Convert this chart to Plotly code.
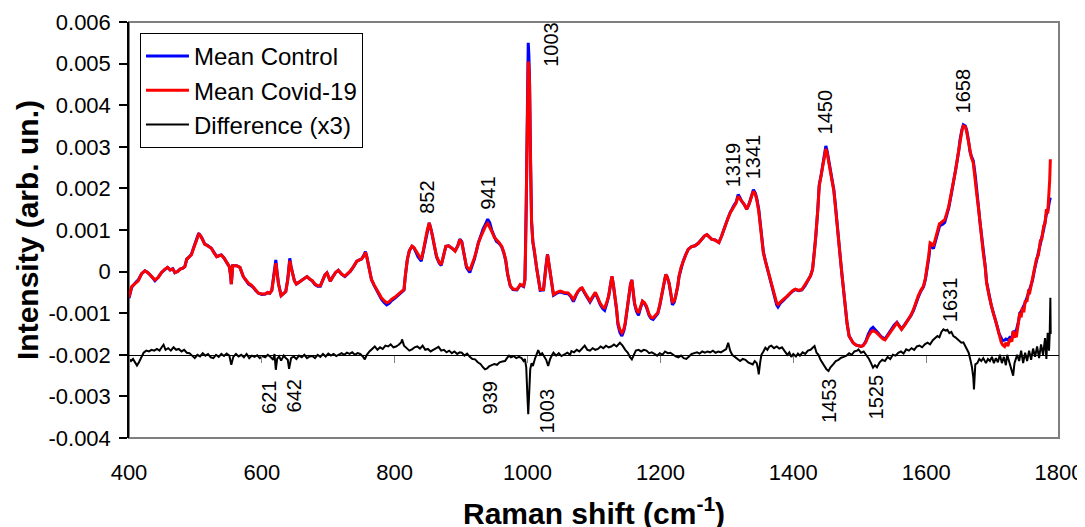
import plotly.graph_objects as go

# ---------------- data ----------------
raman_shift = [
    400, 404, 410, 414, 419, 424, 428, 432, 439, 444, 449, 454, 458, 462, 466, 469, 473, 477, 481, 484,
    487, 491, 494, 497, 500, 503, 505, 508, 510, 514, 518, 524, 528, 532, 536, 539, 543, 547, 551, 553,
    554, 555, 556, 562, 567, 572, 576, 580, 584, 587, 591, 595, 600, 605, 609, 612, 615, 617, 619, 621,
    623, 625, 629, 633, 636, 639, 641, 642, 644, 646, 649, 652, 656, 660, 664, 668, 672, 676, 680, 684,
    688, 692, 695, 698, 701, 703, 707, 711, 715, 720, 725, 729, 733, 738, 743, 747, 750, 753, 756, 758,
    760, 763, 765, 769, 773, 777, 780, 784, 788, 792, 795, 800, 805, 810, 814, 816, 819, 822, 826, 829,
    831, 835, 840, 843, 846, 849, 852, 855, 857, 860, 863, 867, 870, 873, 877, 881, 886, 891, 895, 898,
    901, 903, 906, 908, 913, 917, 920, 923, 926, 930, 933, 937, 940, 943, 946, 950, 953, 957, 961, 964,
    967, 970, 974, 978, 984, 989, 994, 996, 997, 998, 999.5, 1001, 1002, 1003, 1004.5, 1006, 1008, 1010, 1014, 1019,
    1024, 1027, 1030, 1032, 1034, 1039, 1044, 1049, 1055, 1061, 1065, 1069, 1073, 1076, 1080, 1082, 1086, 1090, 1094, 1098,
    1102, 1105, 1109, 1113, 1116, 1119, 1122, 1125, 1127, 1129, 1131, 1134, 1136, 1139, 1142, 1145, 1147, 1150, 1153, 1155,
    1157, 1159, 1161, 1164, 1167, 1170, 1173, 1176, 1179, 1183, 1186, 1189, 1193, 1196, 1199, 1202, 1205, 1208, 1210, 1213,
    1216, 1218, 1221, 1223, 1226, 1228, 1231, 1234, 1238, 1242, 1247, 1252, 1257, 1262, 1266, 1270, 1274, 1277, 1282, 1288,
    1292, 1297, 1301, 1305, 1308, 1311, 1314, 1317, 1320, 1322, 1326, 1330, 1333, 1335, 1338, 1340, 1343, 1345, 1348, 1350,
    1353, 1355, 1358, 1360, 1363, 1366, 1369, 1372, 1375, 1377, 1381, 1385, 1390, 1395, 1399, 1403, 1408, 1413, 1418, 1423,
    1426, 1429, 1432, 1434, 1437, 1439, 1442, 1444, 1447, 1449, 1451, 1453, 1456, 1458, 1461, 1463, 1466, 1468, 1471, 1473,
    1476, 1478, 1481, 1484, 1487, 1490, 1494, 1498, 1502, 1505, 1509, 1513, 1517, 1520, 1524, 1528, 1532, 1535, 1538, 1543,
    1548, 1552, 1556, 1560, 1563, 1568, 1573, 1577, 1581, 1585, 1588, 1592, 1596, 1599, 1601, 1604, 1606, 1609, 1611, 1615,
    1618, 1620, 1622, 1625, 1628, 1631, 1634, 1638, 1641, 1644, 1646, 1649, 1651, 1654, 1656, 1659, 1661, 1664, 1666, 1668,
    1671, 1674, 1676, 1679, 1681, 1684, 1686, 1689, 1691, 1695, 1698, 1701, 1704, 1707, 1710, 1713, 1715, 1718, 1720, 1723,
    1726, 1729, 1731, 1734, 1736, 1739, 1741, 1743, 1745, 1747, 1749, 1752, 1754, 1756, 1760, 1763, 1766, 1769, 1772, 1774,
    1777, 1779, 1781, 1783, 1785, 1786, 1787,
]

mean_control = [
    -0.64e-3, -0.38e-3, -0.26e-3, -0.20e-3, -0.05e-3, 0.02e-3, -0.02e-3, -0.08e-3, -0.22e-3, -0.14e-3, -0.02e-3, 0.06e-3, 0.10e-3, 0.04e-3, 0.07e-3, -0.03e-3, 0.00e-3, 0.06e-3, 0.08e-3, 0.12e-3,
    0.30e-3, 0.36e-3, 0.42e-3, 0.56e-3, 0.72e-3, 0.84e-3, 0.92e-3, 0.86e-3, 0.80e-3, 0.66e-3, 0.63e-3, 0.56e-3, 0.45e-3, 0.36e-3, 0.39e-3, 0.40e-3, 0.33e-3, 0.24e-3, 0.12e-3, -0.10e-3,
    -0.30e-3, -0.10e-3, 0.14e-3, 0.14e-3, 0.10e-3, -0.12e-3, -0.22e-3, -0.30e-3, -0.34e-3, -0.38e-3, -0.46e-3, -0.52e-3, -0.55e-3, -0.54e-3, -0.50e-3, -0.52e-3, -0.45e-3, -0.20e-3, 0.08e-3, 0.28e-3,
    -0.02e-3, -0.28e-3, -0.58e-3, -0.52e-3, -0.48e-3, -0.18e-3, 0.18e-3, 0.32e-3, 0.12e-3, -0.04e-3, -0.22e-3, -0.30e-3, -0.26e-3, -0.22e-3, -0.16e-3, -0.12e-3, -0.18e-3, -0.23e-3, -0.31e-3, -0.35e-3,
    -0.35e-3, -0.20e-3, -0.08e-3, -0.03e-3, -0.18e-3, -0.23e-3, -0.12e-3, -0.02e-3, 0.03e-3, -0.06e-3, -0.12e-3, -0.07e-3, 0.00e-3, 0.12e-3, 0.25e-3, 0.28e-3, 0.30e-3, 0.38e-3, 0.48e-3, 0.36e-3,
    0.20e-3, -0.05e-3, -0.19e-3, -0.33e-3, -0.45e-3, -0.57e-3, -0.66e-3, -0.74e-3, -0.80e-3, -0.76e-3, -0.70e-3, -0.64e-3, -0.57e-3, -0.51e-3, -0.44e-3, -0.10e-3, 0.29e-3, 0.50e-3, 0.61e-3, 0.57e-3,
    0.50e-3, 0.36e-3, 0.25e-3, 0.48e-3, 0.77e-3, 1.00e-3, 1.17e-3, 1.00e-3, 0.85e-3, 0.60e-3, 0.35e-3, 0.20e-3, 0.15e-3, 0.35e-3, 0.61e-3, 0.62e-3, 0.57e-3, 0.50e-3, 0.62e-3, 0.78e-3,
    0.72e-3, 0.55e-3, 0.30e-3, 0.10e-3, -0.02e-3, 0.14e-3, 0.30e-3, 0.50e-3, 0.70e-3, 0.88e-3, 1.02e-3, 1.15e-3, 1.26e-3, 1.18e-3, 1.00e-3, 0.84e-3, 0.73e-3, 0.68e-3, 0.60e-3, 0.46e-3,
    0.27e-3, -0.07e-3, -0.35e-3, -0.43e-3, -0.44e-3, -0.32e-3, -0.36e-3, -0.20e-3, 0.50e-3, 1.60e-3, 3.60e-3, 5.50e-3, 5.20e-3, 4.55e-3, 2.70e-3, 1.20e-3, 0.72e-3, 0.53e-3, 0.05e-3, -0.45e-3,
    -0.44e-3, 0.05e-3, 0.42e-3, 0.20e-3, -0.03e-3, -0.57e-3, -0.52e-3, -0.48e-3, -0.52e-3, -0.53e-3, -0.60e-3, -0.72e-3, -0.57e-3, -0.48e-3, -0.41e-3, -0.40e-3, -0.52e-3, -0.64e-3, -0.73e-3, -0.62e-3,
    -0.52e-3, -0.62e-3, -0.78e-3, -0.89e-3, -0.93e-3, -0.78e-3, -0.60e-3, -0.30e-3, -0.12e-3, -0.30e-3, -0.52e-3, -0.92e-3, -1.27e-3, -1.46e-3, -1.55e-3, -1.42e-3, -1.26e-3, -0.92e-3, -0.52e-3, -0.30e-3,
    -0.20e-3, -0.46e-3, -0.78e-3, -0.96e-3, -1.05e-3, -0.88e-3, -0.72e-3, -0.77e-3, -0.86e-3, -1.06e-3, -1.13e-3, -1.15e-3, -1.08e-3, -1.01e-3, -0.82e-3, -0.56e-3, -0.25e-3, -0.07e-3, -0.12e-3, -0.28e-3,
    -0.58e-3, -0.80e-3, -0.73e-3, -0.60e-3, -0.36e-3, -0.12e-3, 0.08e-3, 0.24e-3, 0.40e-3, 0.54e-3, 0.60e-3, 0.62e-3, 0.68e-3, 0.77e-3, 0.85e-3, 0.89e-3, 0.83e-3, 0.78e-3, 0.76e-3, 0.70e-3,
    0.85e-3, 1.10e-3, 1.26e-3, 1.42e-3, 1.52e-3, 1.60e-3, 1.67e-3, 1.85e-3, 1.77e-3, 1.70e-3, 1.62e-3, 1.50e-3, 1.60e-3, 1.70e-3, 1.87e-3, 1.97e-3, 1.88e-3, 1.76e-3, 1.50e-3, 1.20e-3,
    0.78e-3, 0.47e-3, 0.26e-3, 0.13e-3, -0.06e-3, -0.28e-3, -0.47e-3, -0.66e-3, -0.80e-3, -0.85e-3, -0.75e-3, -0.69e-3, -0.62e-3, -0.53e-3, -0.47e-3, -0.43e-3, -0.46e-3, -0.44e-3, -0.33e-3, -0.19e-3,
    -0.10e-3, 0.05e-3, 0.50e-3, 0.86e-3, 1.52e-3, 2.08e-3, 2.33e-3, 2.50e-3, 2.80e-3, 3.02e-3, 2.90e-3, 2.72e-3, 2.43e-3, 2.24e-3, 1.97e-3, 1.67e-3, 1.22e-3, 0.78e-3, 0.30e-3, -0.03e-3,
    -0.50e-3, -0.90e-3, -1.25e-3, -1.55e-3, -1.65e-3, -1.71e-3, -1.76e-3, -1.79e-3, -1.80e-3, -1.78e-3, -1.68e-3, -1.50e-3, -1.38e-3, -1.34e-3, -1.40e-3, -1.48e-3, -1.56e-3, -1.60e-3, -1.62e-3, -1.50e-3,
    -1.37e-3, -1.28e-3, -1.22e-3, -1.30e-3, -1.38e-3, -1.27e-3, -1.15e-3, -1.06e-3, -0.93e-3, -0.74e-3, -0.62e-3, -0.47e-3, -0.37e-3, -0.18e-3, 0.00e-3, 0.33e-3, 0.62e-3, 0.60e-3, 0.55e-3, 0.78e-3,
    0.92e-3, 1.08e-3, 1.12e-3, 1.14e-3, 1.18e-3, 1.35e-3, 1.53e-3, 1.87e-3, 2.11e-3, 2.39e-3, 2.60e-3, 2.90e-3, 3.17e-3, 3.42e-3, 3.53e-3, 3.50e-3, 3.40e-3, 3.12e-3, 2.88e-3, 2.78e-3,
    2.66e-3, 2.30e-3, 1.92e-3, 1.52e-3, 1.20e-3, 0.82e-3, 0.47e-3, 0.12e-3, -0.25e-3, -0.58e-3, -0.81e-3, -0.98e-3, -1.13e-3, -1.32e-3, -1.50e-3, -1.62e-3, -1.66e-3, -1.65e-3, -1.62e-3, -1.64e-3,
    -1.58e-3, -1.60e-3, -1.45e-3, -1.44e-3, -1.40e-3, -1.20e-3, -1.00e-3, -0.96e-3, -0.90e-3, -0.84e-3, -0.75e-3, -0.62e-3, -0.52e-3, -0.44e-3, -0.22e-3, 0.04e-3, 0.24e-3, 0.44e-3, 0.68e-3, 0.82e-3,
    1.02e-3, 1.20e-3, 1.38e-3, 1.45e-3, 1.70e-3, 1.72e-3, 1.78e-3,
]

mean_covid = [
    -0.62e-3, -0.36e-3, -0.28e-3, -0.22e-3, -0.05e-3, 0.02e-3, -0.02e-3, -0.08e-3, -0.20e-3, -0.14e-3, -0.02e-3, 0.06e-3, 0.10e-3, 0.04e-3, 0.06e-3, -0.02e-3, 0.00e-3, 0.06e-3, 0.08e-3, 0.12e-3,
    0.30e-3, 0.36e-3, 0.40e-3, 0.55e-3, 0.70e-3, 0.82e-3, 0.90e-3, 0.86e-3, 0.78e-3, 0.66e-3, 0.62e-3, 0.56e-3, 0.45e-3, 0.36e-3, 0.38e-3, 0.40e-3, 0.33e-3, 0.24e-3, 0.12e-3, -0.10e-3,
    -0.30e-3, -0.10e-3, 0.14e-3, 0.14e-3, 0.10e-3, -0.12e-3, -0.20e-3, -0.28e-3, -0.32e-3, -0.38e-3, -0.46e-3, -0.52e-3, -0.54e-3, -0.54e-3, -0.50e-3, -0.52e-3, -0.45e-3, -0.20e-3, 0.05e-3, 0.20e-3,
    -0.05e-3, -0.30e-3, -0.58e-3, -0.52e-3, -0.48e-3, -0.20e-3, 0.15e-3, 0.26e-3, 0.10e-3, -0.05e-3, -0.22e-3, -0.30e-3, -0.26e-3, -0.22e-3, -0.16e-3, -0.12e-3, -0.18e-3, -0.22e-3, -0.30e-3, -0.34e-3,
    -0.34e-3, -0.20e-3, -0.08e-3, -0.03e-3, -0.18e-3, -0.23e-3, -0.12e-3, -0.02e-3, 0.03e-3, -0.06e-3, -0.11e-3, -0.06e-3, 0.01e-3, 0.12e-3, 0.25e-3, 0.28e-3, 0.30e-3, 0.36e-3, 0.46e-3, 0.35e-3,
    0.20e-3, -0.05e-3, -0.19e-3, -0.32e-3, -0.43e-3, -0.55e-3, -0.63e-3, -0.70e-3, -0.75e-3, -0.72e-3, -0.67e-3, -0.62e-3, -0.55e-3, -0.50e-3, -0.43e-3, -0.10e-3, 0.29e-3, 0.50e-3, 0.61e-3, 0.58e-3,
    0.53e-3, 0.40e-3, 0.29e-3, 0.50e-3, 0.77e-3, 1.00e-3, 1.17e-3, 1.00e-3, 0.85e-3, 0.60e-3, 0.37e-3, 0.22e-3, 0.17e-3, 0.35e-3, 0.61e-3, 0.62e-3, 0.57e-3, 0.49e-3, 0.62e-3, 0.77e-3,
    0.70e-3, 0.53e-3, 0.30e-3, 0.13e-3, 0.03e-3, 0.18e-3, 0.33e-3, 0.50e-3, 0.69e-3, 0.85e-3, 0.97e-3, 1.10e-3, 1.16e-3, 1.08e-3, 0.97e-3, 0.82e-3, 0.77e-3, 0.70e-3, 0.61e-3, 0.48e-3,
    0.29e-3, -0.05e-3, -0.34e-3, -0.42e-3, -0.43e-3, -0.31e-3, -0.35e-3, -0.20e-3, 0.50e-3, 1.50e-3, 3.20e-3, 5.05e-3, 4.90e-3, 4.50e-3, 2.60e-3, 1.20e-3, 0.70e-3, 0.53e-3, 0.05e-3, -0.43e-3,
    -0.43e-3, 0.05e-3, 0.41e-3, 0.20e-3, -0.03e-3, -0.55e-3, -0.50e-3, -0.47e-3, -0.50e-3, -0.51e-3, -0.58e-3, -0.67e-3, -0.55e-3, -0.47e-3, -0.40e-3, -0.39e-3, -0.50e-3, -0.62e-3, -0.71e-3, -0.60e-3,
    -0.50e-3, -0.60e-3, -0.75e-3, -0.85e-3, -0.87e-3, -0.75e-3, -0.59e-3, -0.30e-3, -0.11e-3, -0.30e-3, -0.51e-3, -0.90e-3, -1.23e-3, -1.40e-3, -1.47e-3, -1.38e-3, -1.23e-3, -0.90e-3, -0.51e-3, -0.30e-3,
    -0.20e-3, -0.45e-3, -0.75e-3, -0.92e-3, -0.99e-3, -0.85e-3, -0.71e-3, -0.75e-3, -0.83e-3, -1.03e-3, -1.10e-3, -1.11e-3, -1.05e-3, -0.99e-3, -0.80e-3, -0.55e-3, -0.25e-3, -0.07e-3, -0.12e-3, -0.27e-3,
    -0.55e-3, -0.75e-3, -0.70e-3, -0.59e-3, -0.35e-3, -0.11e-3, 0.10e-3, 0.25e-3, 0.40e-3, 0.54e-3, 0.60e-3, 0.62e-3, 0.68e-3, 0.77e-3, 0.85e-3, 0.89e-3, 0.83e-3, 0.78e-3, 0.76e-3, 0.70e-3,
    0.85e-3, 1.09e-3, 1.25e-3, 1.41e-3, 1.50e-3, 1.58e-3, 1.65e-3, 1.81e-3, 1.75e-3, 1.69e-3, 1.62e-3, 1.50e-3, 1.60e-3, 1.69e-3, 1.85e-3, 1.93e-3, 1.85e-3, 1.73e-3, 1.45e-3, 1.17e-3,
    0.75e-3, 0.45e-3, 0.25e-3, 0.13e-3, -0.05e-3, -0.27e-3, -0.45e-3, -0.63e-3, -0.75e-3, -0.79e-3, -0.72e-3, -0.67e-3, -0.60e-3, -0.51e-3, -0.46e-3, -0.42e-3, -0.45e-3, -0.43e-3, -0.32e-3, -0.18e-3,
    -0.10e-3, 0.05e-3, 0.50e-3, 0.85e-3, 1.50e-3, 2.05e-3, 2.30e-3, 2.45e-3, 2.75e-3, 2.95e-3, 2.85e-3, 2.69e-3, 2.40e-3, 2.21e-3, 1.95e-3, 1.65e-3, 1.20e-3, 0.77e-3, 0.30e-3, -0.03e-3,
    -0.50e-3, -0.91e-3, -1.25e-3, -1.55e-3, -1.65e-3, -1.71e-3, -1.76e-3, -1.79e-3, -1.80e-3, -1.78e-3, -1.70e-3, -1.55e-3, -1.45e-3, -1.42e-3, -1.45e-3, -1.51e-3, -1.58e-3, -1.62e-3, -1.64e-3, -1.52e-3,
    -1.39e-3, -1.30e-3, -1.23e-3, -1.32e-3, -1.39e-3, -1.28e-3, -1.15e-3, -1.05e-3, -0.91e-3, -0.72e-3, -0.59e-3, -0.45e-3, -0.35e-3, -0.15e-3, 0.05e-3, 0.40e-3, 0.69e-3, 0.66e-3, 0.61e-3, 0.85e-3,
    1.01e-3, 1.15e-3, 1.17e-3, 1.20e-3, 1.25e-3, 1.40e-3, 1.57e-3, 1.90e-3, 2.13e-3, 2.40e-3, 2.61e-3, 2.90e-3, 3.17e-3, 3.40e-3, 3.50e-3, 3.48e-3, 3.37e-3, 3.10e-3, 2.85e-3, 2.75e-3,
    2.61e-3, 2.25e-3, 1.89e-3, 1.50e-3, 1.17e-3, 0.80e-3, 0.45e-3, 0.10e-3, -0.27e-3, -0.60e-3, -0.83e-3, -1.00e-3, -1.15e-3, -1.35e-3, -1.55e-3, -1.70e-3, -1.76e-3, -1.80e-3, -1.71e-3, -1.79e-3,
    -1.62e-3, -1.68e-3, -1.43e-3, -1.56e-3, -1.55e-3, -1.22e-3, -0.99e-3, -1.10e-3, -0.86e-3, -0.98e-3, -0.72e-3, -0.70e-3, -0.48e-3, -0.50e-3, -0.18e-3, 0.00e-3, 0.30e-3, 0.40e-3, 0.75e-3, 0.78e-3,
    1.10e-3, 1.15e-3, 1.50e-3, 1.40e-3, 1.80e-3, 2.20e-3, 2.70e-3,
]

diff_shift = [
    400, 403, 406, 409, 412, 415, 419, 422, 426, 430, 434, 438, 442, 446, 450, 452, 455, 459, 463, 467,
    471, 475, 479, 483, 487, 491, 495, 499, 503, 507, 511, 515, 519, 523, 527, 531, 535, 539, 543, 547,
    551, 554, 557, 561, 565, 569, 573, 577, 581, 585, 589, 593, 597, 601, 605, 609, 613, 617, 619, 621,
    623, 626, 629, 633, 636, 639, 641, 644, 648, 652, 656, 660, 664, 668, 672, 676, 680, 684, 688, 692,
    696, 700, 704, 708, 712, 716, 720, 724, 728, 732, 736, 740, 744, 748, 752, 755, 758, 762, 766, 770,
    774, 778, 782, 786, 790, 794, 798, 802, 806, 810, 811, 814, 818, 822, 826, 830, 834, 838, 842, 846,
    850, 854, 858, 862, 866, 870, 874, 878, 882, 886, 890, 894, 898, 901, 905, 909, 913, 917, 921, 925,
    929, 933, 936, 939, 942, 946, 950, 954, 958, 962, 966, 969, 972, 975, 979, 983, 987, 991, 994, 996,
    998, 999.5, 1001, 1002.5, 1004, 1006, 1008, 1011, 1014, 1016, 1019, 1022, 1025, 1028, 1031, 1034, 1037, 1039, 1043, 1047,
    1051, 1056, 1060, 1064, 1066, 1070, 1074, 1078, 1082, 1086, 1090, 1094, 1098, 1102, 1106, 1110, 1114, 1118, 1122, 1126,
    1130, 1134, 1139, 1143, 1147, 1151, 1154, 1157, 1160, 1163, 1167, 1171, 1175, 1179, 1183, 1187, 1191, 1195, 1199, 1203,
    1207, 1211, 1215, 1219, 1223, 1227, 1231, 1235, 1239, 1243, 1247, 1251, 1255, 1259, 1263, 1267, 1271, 1275, 1279, 1283,
    1287, 1291, 1295, 1299, 1302, 1305, 1308, 1312, 1316, 1320, 1324, 1328, 1332, 1336, 1339, 1342, 1345, 1347, 1348, 1350,
    1352, 1355, 1358, 1361, 1364, 1367, 1371, 1375, 1379, 1383, 1387, 1391, 1394, 1397, 1400, 1404, 1407, 1410, 1414, 1418,
    1422, 1426, 1430, 1432, 1435, 1438, 1441, 1444, 1447, 1450, 1453, 1456, 1460, 1464, 1468, 1472, 1476, 1480, 1484, 1488,
    1492, 1496, 1498, 1502, 1506, 1510, 1514, 1517, 1520, 1523, 1526, 1530, 1534, 1538, 1542, 1546, 1550, 1554, 1558, 1562,
    1566, 1570, 1574, 1578, 1582, 1586, 1590, 1594, 1598, 1602, 1606, 1610, 1614, 1617, 1620, 1623, 1626, 1629, 1632, 1635,
    1638, 1641, 1644, 1647, 1650, 1653, 1656, 1659, 1661, 1664, 1667, 1669, 1671, 1672, 1674, 1677, 1680, 1683, 1686, 1690,
    1693, 1696, 1699, 1702, 1705, 1708, 1711, 1714, 1717, 1720, 1722, 1725, 1728, 1731, 1733, 1737, 1740, 1743, 1746, 1749,
    1752, 1755, 1758, 1761, 1764, 1767, 1770, 1773, 1776, 1779, 1781, 1783, 1785, 1786, 1787, 1787.5,
]

difference_x3 = [
    -0.10e-3, -0.15e-3, -0.10e-3, -0.20e-3, -0.26e-3, -0.18e-3, -0.04e-3, 0.05e-3, 0.10e-3, 0.08e-3, 0.12e-3, 0.10e-3, 0.14e-3, 0.10e-3, 0.20e-3, 0.24e-3, 0.12e-3, 0.16e-3, 0.10e-3, 0.18e-3,
    0.12e-3, 0.14e-3, 0.08e-3, 0.12e-3, 0.05e-3, 0.04e-3, -0.02e-3, -0.08e-3, 0.00e-3, -0.04e-3, 0.04e-3, -0.02e-3, 0.02e-3, -0.06e-3, -0.08e-3, 0.00e-3, -0.05e-3, 0.02e-3, -0.03e-3, 0.03e-3,
    -0.02e-3, -0.24e-3, -0.05e-3, 0.02e-3, -0.04e-3, 0.00e-3, -0.06e-3, 0.02e-3, -0.08e-3, -0.02e-3, -0.05e-3, -0.01e-3, -0.08e-3, -0.03e-3, -0.06e-3, 0.00e-3, -0.05e-3, -0.12e-3, 0.02e-3, -0.36e-3,
    -0.10e-3, -0.04e-3, -0.14e-3, -0.02e-3, -0.08e-3, -0.12e-3, -0.34e-3, -0.08e-3, -0.04e-3, -0.10e-3, -0.02e-3, -0.06e-3, 0.00e-3, -0.08e-3, -0.04e-3, -0.03e-3, -0.08e-3, 0.00e-3, -0.05e-3, 0.02e-3,
    -0.04e-3, 0.03e-3, -0.02e-3, 0.02e-3, -0.03e-3, 0.01e-3, 0.04e-3, 0.00e-3, 0.05e-3, 0.02e-3, 0.06e-3, 0.00e-3, 0.04e-3, 0.02e-3, -0.04e-3, -0.11e-3, 0.00e-3, 0.08e-3, 0.15e-3, 0.20e-3,
    0.12e-3, 0.18e-3, 0.14e-3, 0.22e-3, 0.20e-3, 0.25e-3, 0.18e-3, 0.20e-3, 0.24e-3, 0.30e-3, 0.37e-3, 0.22e-3, 0.16e-3, 0.10e-3, 0.13e-3, 0.18e-3, 0.20e-3, 0.15e-3, 0.22e-3, 0.12e-3,
    0.14e-3, 0.08e-3, 0.12e-3, 0.16e-3, 0.19e-3, 0.10e-3, 0.12e-3, 0.06e-3, 0.10e-3, 0.04e-3, 0.08e-3, 0.02e-3, 0.06e-3, 0.05e-3, -0.02e-3, 0.03e-3, -0.05e-3, -0.10e-3, -0.11e-3, -0.18e-3,
    -0.22e-3, -0.30e-3, -0.35e-3, -0.33e-3, -0.28e-3, -0.25e-3, -0.22e-3, -0.24e-3, -0.18e-3, -0.16e-3, -0.15e-3, -0.08e-3, -0.02e-3, -0.06e-3, -0.03e-3, -0.08e-3, -0.05e-3, -0.08e-3, -0.15e-3, -0.10e-3,
    -0.30e-3, -0.90e-3, -1.43e-3, -0.90e-3, -0.35e-3, -0.20e-3, -0.27e-3, -0.10e-3, 0.05e-3, 0.11e-3, 0.00e-3, 0.04e-3, -0.04e-3, -0.12e-3, -0.27e-3, -0.10e-3, 0.00e-3, 0.05e-3, -0.02e-3, 0.04e-3,
    -0.03e-3, 0.02e-3, 0.05e-3, 0.00e-3, 0.09e-3, 0.06e-3, 0.12e-3, 0.08e-3, 0.15e-3, 0.22e-3, 0.12e-3, 0.10e-3, 0.16e-3, 0.12e-3, 0.14e-3, 0.20e-3, 0.16e-3, 0.22e-3, 0.18e-3, 0.20e-3,
    0.25e-3, 0.20e-3, 0.29e-3, 0.22e-3, 0.12e-3, 0.05e-3, -0.05e-3, -0.11e-3, 0.00e-3, 0.10e-3, 0.12e-3, 0.08e-3, 0.12e-3, 0.10e-3, 0.04e-3, 0.06e-3, 0.02e-3, -0.02e-3, 0.04e-3, 0.00e-3,
    0.08e-3, 0.04e-3, 0.05e-3, 0.00e-3, -0.04e-3, -0.06e-3, -0.02e-3, -0.08e-3, -0.10e-3, -0.04e-3, 0.02e-3, 0.04e-3, 0.06e-3, 0.03e-3, 0.08e-3, 0.05e-3, 0.08e-3, 0.06e-3, 0.10e-3, 0.05e-3,
    0.08e-3, 0.06e-3, 0.10e-3, 0.14e-3, 0.29e-3, 0.10e-3, 0.00e-3, -0.05e-3, -0.12e-3, -0.15e-3, -0.10e-3, -0.12e-3, -0.18e-3, -0.20e-3, -0.23e-3, -0.15e-3, -0.20e-3, -0.35e-3, -0.47e-3, -0.20e-3,
    0.00e-3, 0.08e-3, 0.17e-3, 0.12e-3, 0.20e-3, 0.22e-3, 0.16e-3, 0.20e-3, 0.15e-3, 0.18e-3, 0.10e-3, 0.00e-3, 0.06e-3, -0.05e-3, 0.02e-3, -0.04e-3, 0.03e-3, -0.02e-3, 0.06e-3, 0.02e-3,
    0.10e-3, 0.12e-3, 0.18e-3, 0.21e-3, 0.05e-3, 0.00e-3, -0.12e-3, -0.20e-3, -0.30e-3, -0.35e-3, -0.39e-3, -0.30e-3, -0.23e-3, -0.15e-3, -0.12e-3, -0.07e-3, -0.05e-3, -0.02e-3, 0.04e-3, 0.00e-3,
    0.08e-3, 0.10e-3, 0.13e-3, 0.05e-3, 0.08e-3, 0.00e-3, -0.10e-3, -0.20e-3, -0.31e-3, -0.25e-3, -0.30e-3, -0.18e-3, -0.12e-3, -0.15e-3, -0.05e-3, -0.10e-3, 0.00e-3, -0.02e-3, 0.05e-3, 0.08e-3,
    0.03e-3, 0.13e-3, 0.10e-3, 0.16e-3, 0.12e-3, 0.20e-3, 0.22e-3, 0.18e-3, 0.25e-3, 0.29e-3, 0.25e-3, 0.35e-3, 0.40e-3, 0.45e-3, 0.42e-3, 0.55e-3, 0.61e-3, 0.58e-3, 0.60e-3, 0.52e-3,
    0.55e-3, 0.45e-3, 0.42e-3, 0.38e-3, 0.35e-3, 0.29e-3, 0.30e-3, 0.20e-3, 0.17e-3, 0.05e-3, -0.15e-3, -0.30e-3, -0.55e-3, -0.83e-3, -0.23e-3, -0.20e-3, -0.10e-3, -0.15e-3, -0.08e-3, -0.20e-3,
    -0.10e-3, -0.15e-3, -0.05e-3, -0.20e-3, -0.08e-3, -0.18e-3, 0.00e-3, -0.20e-3, -0.05e-3, -0.25e-3, 0.00e-3, -0.18e-3, -0.35e-3, -0.50e-3, -0.20e-3, 0.00e-3, -0.15e-3, 0.10e-3, -0.20e-3, 0.05e-3,
    -0.15e-3, 0.10e-3, -0.12e-3, 0.15e-3, -0.05e-3, 0.20e-3, -0.08e-3, 0.25e-3, 0.00e-3, 0.40e-3, -0.10e-3, 0.53e-3, 0.10e-3, 0.50e-3, 1.37e-3, 0.50e-3,
]

x_ticks = [400, 600, 800, 1000, 1200, 1400, 1600, 1800]
y_ticks = [-0.004, -0.003, -0.002, -0.001, 0, 0.001, 0.002, 0.003, 0.004, 0.005, 0.006]
y_tick_labels = ["-0.004", "-0.003", "-0.002", "-0.001", "0", "0.001", "0.002",
                 "0.003", "0.004", "0.005", "0.006"]

# peak labels: (text, x position, y position)
peak_labels = [
    ("1003", 1035, 0.00547), ("852", 848.6, 0.001775), ("941", 940.4, 0.001895),
    ("1319", 1308.5, 0.002567), ("1341", 1338.6, 0.002759), ("1450", 1447, 0.003839),
    ("1658", 1654.7, 0.004343), ("621", 611.5, -0.003025), ("642", 648.4, -0.003001),
    ("939", 943.4, -0.003025), ("1003", 1029.2, -0.003337), ("1453", 1454.6, -0.003097),
    ("1525", 1524.5, -0.003001), ("1631", 1635.2, -0.000673),
]

FONT = "Liberation Sans, Arial, sans-serif"

fig = go.Figure()
fig.add_trace(go.Scatter(x=raman_shift, y=mean_control, mode="lines", name="Mean Control",
                         line=dict(color="#0000ff", width=3)))
fig.add_trace(go.Scatter(x=raman_shift, y=mean_covid, mode="lines", name="Mean Covid-19",
                         line=dict(color="#ff0000", width=3)))
fig.add_trace(go.Scatter(x=diff_shift, y=difference_x3, mode="lines", name="Difference (x3)",
                         line=dict(color="#000000", width=2),
                         xaxis="x2", yaxis="y2"))

annotations = [
    dict(text=t, x=x, y=y, xref="x", yref="y", showarrow=False, textangle=-90,
         xanchor="center", yanchor="middle", font=dict(size=20, color="black", family=FONT))
    for t, x, y in peak_labels
]
annotations.append(dict(text="<b>Raman shift (cm<sup>-1</sup>)</b>", x=0.5, y=0, xref="paper",
                        yref="paper", yshift=-73, showarrow=False, xanchor="center",
                        yanchor="middle", font=dict(size=30, color="black", family=FONT)))
annotations.append(dict(text="<b>Intensity (arb. un.)</b>", x=0, y=0.5, xref="paper",
                        yref="paper", xshift=-102, showarrow=False, textangle=-90,
                        xanchor="center", yanchor="middle",
                        font=dict(size=30, color="black", family=FONT)))

# the page body has an 8px margin, so the figure is sized to sit inside the window
fig.update_layout(
    width=1077, height=519,
    margin=dict(l=121, r=26, t=14, b=89, autoexpand=False),
    paper_bgcolor="white", plot_bgcolor="white",
    font=dict(family=FONT, size=22, color="black"),
    showlegend=True,
    legend=dict(x=0.0118, y=0.9736, xanchor="left", yanchor="top",
                bordercolor="black", borderwidth=1, bgcolor="white",
                font=dict(size=24, family=FONT, color="black"),
                traceorder="normal", itemwidth=43),
    xaxis=dict(range=[400, 1800], tickvals=x_ticks, ticks="", showline=False,
               showgrid=False, zeroline=False, ticklabelstandoff=19,
               tickfont=dict(size=22), automargin=False),
    xaxis2=dict(overlaying="x", matches="x", anchor="free", position=0.2,
                tickvals=x_ticks, ticks="outside", ticklen=7, tickwidth=1,
                tickcolor="#808080", showline=True, linecolor="black", linewidth=1,
                showticklabels=False, showgrid=False, zeroline=False, side="bottom",
                automargin=False),
    yaxis=dict(range=[-0.004, 0.006], tickvals=y_ticks, ticktext=y_tick_labels,
               ticks="outside", ticklen=8, tickwidth=1.5, tickcolor="black",
               showline=True, linecolor="black", linewidth=1.5,
               showgrid=False, zeroline=False, ticklabelstandoff=4,
               tickfont=dict(size=22), automargin=False),
    yaxis2=dict(overlaying="y", range=[-0.002, 0.008], visible=False),
    shapes=[dict(type="rect", xref="paper", yref="paper", x0=0, x1=1, y0=0, y1=1,
                 line=dict(color="#7f7f7f", width=2), layer="below")],
    annotations=annotations,
)

fig.write_html("out.html")
